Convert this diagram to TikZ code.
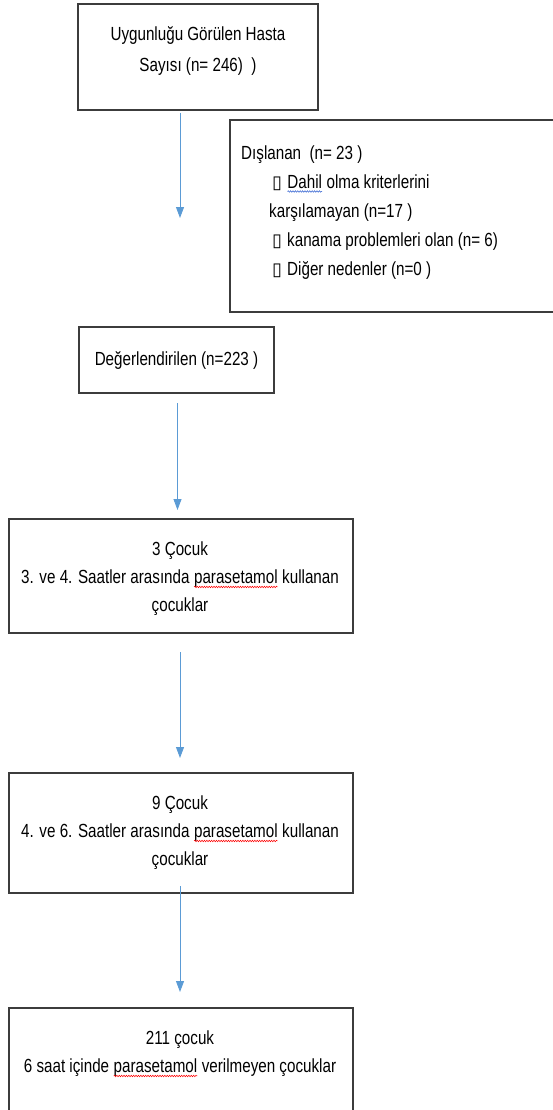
\documentclass[tikz,border=0pt]{standalone}
\usepackage{fontspec}
\setmainfont{Liberation Sans}[FakeStretch=0.8]
\newfontfamily\symfont{DejaVu Sans}
\usepackage{xcolor}
\usepackage{tikz}
\usetikzlibrary{arrows.meta,decorations.pathmorphing,positioning}

\definecolor{boxgray}{HTML}{3C3C3C}
\definecolor{flowblue}{HTML}{5B9BD5}
\definecolor{spellblue}{HTML}{2F5FD0}

% wavy spell-check mark under a word
\newcommand{\spellmark}[2]{\tikz[baseline=(sw.base)]{\node[inner sep=0pt,outer sep=0pt] (sw) {#2};\draw[#1,line width=0.5pt,decorate,decoration={snake,amplitude=0.8pt,segment length=2.4pt}] ([yshift=-3pt]sw.base west) -- ([yshift=-3pt]sw.base east);}}
\newcommand{\bul}{\makebox[15pt][l]{\symfont\fontsize{18}{18}\selectfont ▯}}

\tikzset{
  box/.style={draw=boxgray,line width=1.5pt,inner sep=0pt},
  txt/.style={inner sep=0pt,font=\fontsize{19pt}{28pt}\selectfont},
  flow/.style={draw=flowblue,line width=0.9pt,-{Triangle[width=8pt,length=11pt]}}
}

\begin{document}
\begin{tikzpicture}[x=1pt,y=-1pt]
\useasboundingbox (0,0) rectangle (552,1110);

% Boxes
\node[box,minimum width=240,minimum height=106] (total) at (198,57) {};
\node[txt,align=center,anchor=north,font=\fontsize{19pt}{31pt}\selectfont] (totaltxt) at (198,26) {Uygunluğu Görülen Hasta\\Sayısı (n= 246)\ \ )};

\node[box,minimum width=370,minimum height=192] (excl) at (415,216) {};
\node[txt,align=left,anchor=north west,font=\fontsize{19pt}{29pt}\selectfont] (excltxt) at (241,145.5) {Dışlanan\ \ (n= 23 )\\
\hspace*{31pt}\bul\spellmark{spellblue}{Dahil} olma kriterlerini\\
\hspace*{28pt}karşılamayan (n=17 )\\
\hspace*{31pt}\bul kanama problemleri olan (n= 6)\\
\hspace*{31pt}\bul Diğer nedenler (n=0 )};

\node[box,txt,draw=boxgray,minimum width=195,minimum height=66] (eval) at (176.5,360) {Değerlendirilen (n=223 )};

\node[box,minimum width=344,minimum height=114] (grpA) at (181,576) {};
\node[txt,align=center,anchor=north] (grpAtxt) at (180,542) {3 Çocuk\\3. ve 4. Saatler arasında \spellmark{red}{parasetamol} kullanan\\çocuklar};

\node[box,minimum width=344,minimum height=120] (grpB) at (181,833) {};
\node[txt,align=center,anchor=north] (grpBtxt) at (180,796) {9 Çocuk\\4. ve 6. Saatler arasında \spellmark{red}{parasetamol} kullanan\\çocuklar};

\node[box,minimum width=344,minimum height=124] (grpC) at (181,1070) {};
\node[txt,align=center,anchor=north] (grpCtxt) at (180,1031) {211 çocuk\\6 saat içinde \spellmark{red}{parasetamol} verilmeyen çocuklar};

% Arrows
\coordinate (a1s) at (180,113);
\coordinate (a1e) at (180,218);
\coordinate (a2s) at (177.5,403);
\coordinate (a2e) at (177.5,510);
\coordinate (a3s) at (180,652);
\coordinate (a3e) at (180,758);
\coordinate (a4s) at (180,886);
\coordinate (a4e) at (180,992);
\draw[flow] (a1s) -- (a1e);
\draw[flow] (a2s) -- (a2e);
\draw[flow] (a3s) -- (a3e);
\draw[flow] (a4s) -- (a4e);
\end{tikzpicture}
\end{document}
